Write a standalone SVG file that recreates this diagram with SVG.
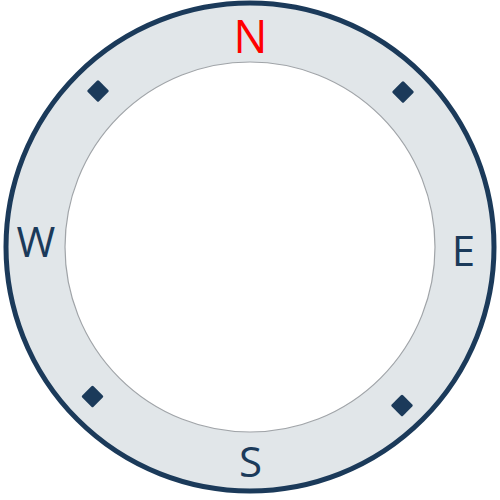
<svg xmlns="http://www.w3.org/2000/svg" width="500" height="500" viewBox="0 0 500 500">
<style>
.lbl{font-family:"Open Sans","Noto Sans",sans-serif;font-size:42px;fill:#1b3a5a;text-anchor:middle}
.dia{fill:#1b3a5a}
</style>
<defs>
<rect id="d" x="-8" y="-8" width="16" height="16" rx="1.5" transform="rotate(45)"/>
</defs>
<g id="ring">
<circle cx="250" cy="247" r="244" fill="#e1e6e9" stroke="#1b3a5a" stroke-width="5"/>
<circle cx="250" cy="247" r="185" fill="#ffffff" stroke="#a0a4a8" stroke-width="1.2"/>
</g>
<g id="marks" class="dia">
<use href="#d" x="98" y="91"/>
<use href="#d" x="403" y="92"/>
<use href="#d" x="92.5" y="396.5"/>
<use href="#d" x="402" y="405.5"/>
</g>
<g id="N"><text class="lbl" x="250.5" y="52.5" style="fill:#ff0000;font-size:45px">N</text></g>
<g id="E"><text class="lbl" x="463.5" y="266">E</text></g>
<g id="S"><text class="lbl" x="250.5" y="477">S</text></g>
<g id="W"><text class="lbl" x="36" y="257">W</text></g>
</svg>
